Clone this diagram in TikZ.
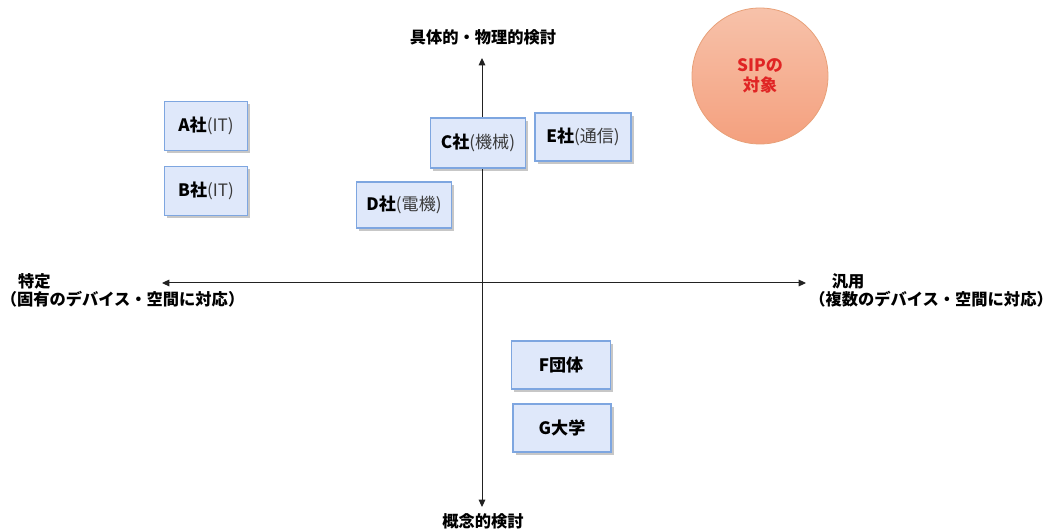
\documentclass[tikz,border=0pt]{standalone}
\usepackage{fontspec}
\setmainfont{Noto Sans CJK JP}
\usetikzlibrary{shadows,arrows.meta}
\definecolor{boxfill}{HTML}{DFE8FA}
\definecolor{boxline}{HTML}{7EA6E0}
\definecolor{circtop}{HTML}{F7C2AA}
\definecolor{circbot}{HTML}{F4A07E}
\definecolor{circline}{HTML}{E8A078}
\definecolor{sipred}{HTML}{E02424}
\definecolor{parengray}{HTML}{3A3A3A}
\definecolor{axisgray}{HTML}{222222}
\newcommand\prt[1]{{\mdseries\color{parengray}#1}}
\tikzset{
  orgbox/.style={draw=boxline, line width=1.1pt, fill=boxfill, inner sep=0pt,
    font=\fontsize{12.8pt}{15pt}\selectfont\bfseries,
    drop shadow={shadow xshift=2pt, shadow yshift=-2pt, fill=black, opacity=0.22}},
  axisline/.style={draw=axisgray, line width=0.75pt,
    {Triangle[length=5.5pt,width=5pt]}-{Triangle[length=5.5pt,width=5pt]}},
  axislabel/.style={inner sep=0pt, font=\fontsize{12.2pt}{13.5pt}\selectfont\bfseries},
  sipcircle/.style={circle, draw=circline, line width=0.6pt, top color=circtop,
    bottom color=circbot, minimum size=102pt, inner sep=0pt, align=center,
    text=sipred, font=\fontsize{12.8pt}{15pt}\selectfont\bfseries},
}
\begin{document}
\begin{tikzpicture}[x=0.75pt,y=-0.75pt]
\useasboundingbox (0,0) rectangle (1054,530);
% axes
\coordinate (top) at (482,58);
\coordinate (bot) at (482,507);
\coordinate (lft) at (162,283);
\coordinate (rgt) at (806,283);
\draw[axisline] (bot) -- (top);
\draw[axisline] (lft) -- (rgt);
% axis labels
\node[axislabel] (ltop) at (483,37) {具体的・物理的検討};
\node[axislabel] (lbot) at (483,521) {概念的検討};
\node[axislabel, align=left, anchor=north west] (llft) at (0.5,273) {\hspace{13pt}特定\\（固有のデバイス・空間に対応）};
\node[axislabel, align=left, anchor=north west] (lrgt) at (809,273) {\hspace{17pt}汎用\\（複数のデバイス・空間に対応）};
% boxes
\node[orgbox, minimum width=62.25pt, minimum height=36.75pt] (A) at (206,126) {A社\prt{(IT)}};
\node[orgbox, minimum width=62.25pt, minimum height=36.75pt] (B) at (206,191) {B社\prt{(IT)}};
\node[orgbox, minimum width=71.25pt, minimum height=37.5pt] (C) at (478,143) {C社\prt{(機械)}};
\node[orgbox, minimum width=71.25pt, minimum height=34.5pt] (D) at (404,205) {D社\prt{(電機)}};
\node[orgbox, minimum width=72pt, minimum height=36pt] (E) at (583,137) {E社\prt{(通信)}};
\node[orgbox, minimum width=74.25pt, minimum height=36pt] (F) at (561,365) {F団体};
\node[orgbox, minimum width=73.5pt, minimum height=36pt] (G) at (562,428) {G大学};
% SIP circle
\node[sipcircle] (sip) at (760,76) {SIPの\\対象};
\end{tikzpicture}
\end{document}
